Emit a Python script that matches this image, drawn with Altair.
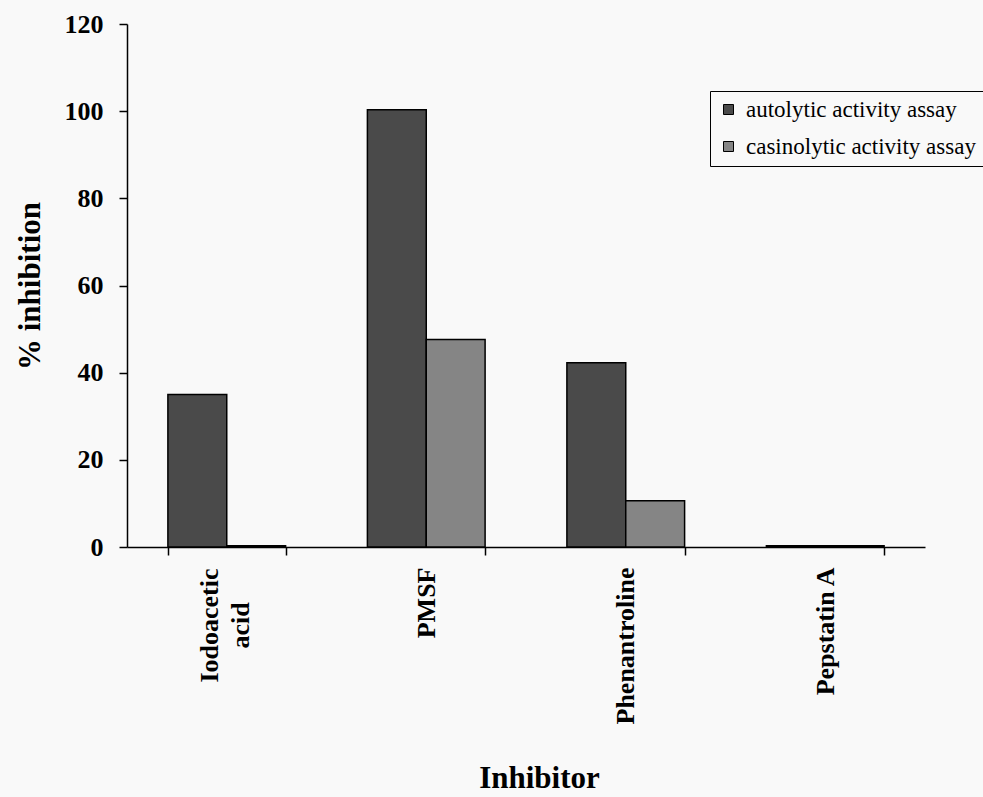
import altair as alt
import pandas as pd

inhibitors = ["Iodoacetic acid", "PMSF", "Phenantroline", "Pepstatin A"]
autolytic = [35.0, 100.3, 42.3, 0.3]
casinolytic = [0.3, 47.6, 10.6, 0.3]
series = ["autolytic activity assay", "casinolytic activity assay"]
y_ticks = [0, 20, 40, 60, 80, 100, 120]

rows = []
for i, name in enumerate(inhibitors):
    rows.append({"Inhibitor": name, "series": series[0], "value": autolytic[i]})
    rows.append({"Inhibitor": name, "series": series[1], "value": casinolytic[i]})
df = pd.DataFrame(rows)

FONT = "Liberation Serif"
label_expr = "datum.value == 'Iodoacetic acid' ? ['Iodoacetic', 'acid'] : datum.value"
is_two_line = "datum.value == 'Iodoacetic acid'"

chart = (
    alt.Chart(df)
    .mark_bar(stroke="black", strokeWidth=1.5)
    .encode(
        x=alt.X(
            "Inhibitor:N",
            sort=inhibitors,
            scale=alt.Scale(paddingInner=0.41, paddingOuter=0.205),
            axis=alt.Axis(
                title="Inhibitor",
                labelAngle=-90,
                labelAlign={"condition": {"test": is_two_line, "value": "center"}, "value": "right"},
                labelPadding={"condition": {"test": is_two_line, "value": 70}, "value": 12},
                labelOffset={"condition": {"test": is_two_line, "value": -17}, "value": 0},
                labelBaseline="middle",
                labelExpr=label_expr,
                labelLineHeight=31,
                labelFont=FONT,
                labelFontSize=26,
                labelFontWeight="bold",
                labelColor="black",
                tickBand="extent",
                tickSize=8,
                tickColor="black",
                tickWidth=1.5,
                domainColor="black",
                domainWidth=1.5,
                titleFont=FONT,
                titleFontSize=31,
                titleFontWeight="bold",
                titleColor="black",
                titleBaseline="alphabetic",
                titleY=240,
                titleX=412,
            ),
        ),
        xOffset=alt.XOffset("series:N", sort=series),
        y=alt.Y(
            "value:Q",
            scale=alt.Scale(domain=[0, 120], nice=False),
            axis=alt.Axis(
                title="% inhibition",
                values=y_ticks,
                grid=False,
                labelFont=FONT,
                labelFontSize=26,
                labelFontWeight="bold",
                labelColor="black",
                labelPadding=16,
                tickSize=8,
                tickColor="black",
                tickWidth=1.5,
                domainColor="black",
                domainWidth=1.5,
                titleFont=FONT,
                titleFontSize=31,
                titleFontWeight="bold",
                titleColor="black",
                titlePadding=18,
            ),
        ),
        fill=alt.Fill(
            "series:N",
            sort=series,
            scale=alt.Scale(domain=series, range=["#4a4a4a", "#858585"]),
            legend=alt.Legend(
                title=None,
                orient="none",
                legendX=583,
                legendY=67,
                symbolType="square",
                symbolSize=100,
                symbolStrokeColor="black",
                symbolStrokeWidth=1,
                labelFont=FONT,
                labelFontSize=23,
                labelColor="black",
                labelOffset=6,
                labelLimit=400,
                rowPadding=13,
                padding=7,
                strokeColor="black",
                fillColor="#f9f9f9",
            ),
        ),
    )
    .properties(
        width=798,
        height=523,
        autosize=alt.AutoSizeParams(type="none"),
        padding={"left": 127, "top": 24, "right": 58, "bottom": 250},
        background="#f9f9f9",
    )
    .configure_view(stroke=None)
)

chart.save("out.html", embed_options={"renderer": "svg", "actions": False})
